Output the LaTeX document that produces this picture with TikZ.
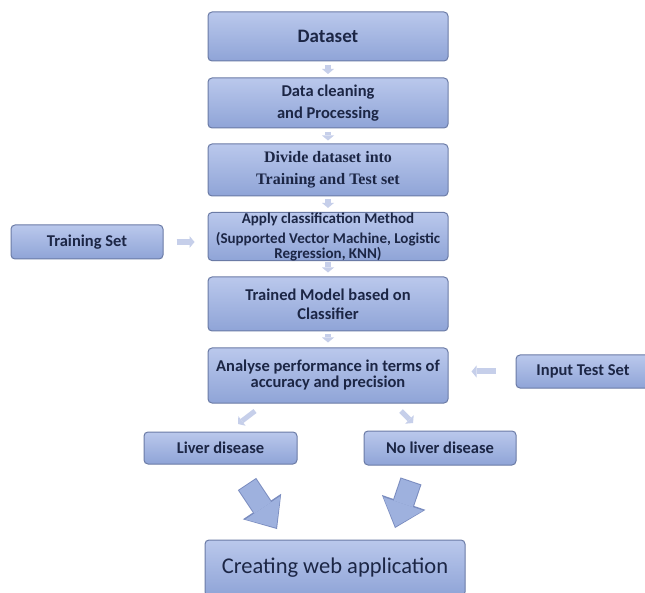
\documentclass[tikz,border=0pt]{standalone}
\usepackage{fontspec}
\setmainfont{Carlito}
\newfontfamily\divfont{Liberation Serif}
\usepackage{tikz}
\usetikzlibrary{arrows.meta}
\definecolor{boxtop}{HTML}{BAC8EC}
\definecolor{boxbot}{HTML}{8FA4D7}
\definecolor{boxline}{HTML}{6B7BA6}
\definecolor{txt}{HTML}{1C2645}
\definecolor{smallarrow}{HTML}{C6CFEA}
\definecolor{bigfill}{HTML}{9EB1DE}
\definecolor{bigline}{HTML}{7A8CBF}
\tikzset{
  stage/.style={draw=boxline, line width=1pt, rounded corners=4pt,
    top color=boxtop, bottom color=boxbot, text=txt, align=center,
    inner sep=0pt, font=\bfseries\fontsize{16.5}{18}\selectfont},
  link/.style={draw=smallarrow, line width=6pt,
    -{Triangle[length=5pt,width=12pt,line width=0pt]}},
  bigout/.style={draw=bigline, line width=22pt,
    -{Triangle[length=27pt,width=46pt,line width=0pt]}},
  bigin/.style={draw=bigfill, line width=20pt,
    -{Triangle[length=24pt,width=42pt,line width=0pt]},
    shorten >=1.5pt, shorten <=1pt}
}
\begin{document}
\begin{tikzpicture}[x=1pt,y=-1pt]
    \clip (0,0) rectangle (645,593);
    \fill[white] (0,0) rectangle (645,593);

    % main column
    \node[stage, minimum width=240pt, minimum height=49pt,
      font=\bfseries\fontsize{19}{20}\selectfont] (dataset) at (328,36.5) {Dataset};
    \node[stage, minimum width=240pt, minimum height=50pt] (clean) at (328,103)
      {Data cleaning\\[4pt] and Processing};
    \node[stage, minimum width=240pt, minimum height=52pt,
      font=\divfont\bfseries\fontsize{16}{22}\selectfont] (divide) at (328,170)
      {Divide dataset into\\ Training and Test set};
    \node[stage, minimum width=240pt, minimum height=47pt,
      font=\bfseries\fontsize{15}{15}\selectfont] (apply) at (328,236.5)
      {Apply classification Method\\[5pt] (Supported Vector Machine, Logistic\\ Regression, KNN)};
    \node[stage, minimum width=240pt, minimum height=54pt] (trained) at (328,304)
      {Trained Model based on\\[1pt] Classifier};
    \node[stage, minimum width=240pt, minimum height=55pt] (analyse) at (328,375.5)
      {Analyse performance in terms of\\[-2pt] accuracy and precision};

    % side inputs
    \node[stage, minimum width=152pt, minimum height=34pt] (trainset) at (87,242)
      {Training Set};
    \node[stage, minimum width=134pt, minimum height=33pt] (testset) at (583,371.5)
      {Input Test Set};

    % outcomes
    \node[stage, minimum width=153pt, minimum height=32pt] (liver) at (220.5,448)
      {Liver disease};
    \node[stage, minimum width=152pt, minimum height=34pt] (noliver) at (440,448)
      {No liver disease};
    \node[stage, minimum width=260pt, minimum height=56pt,
      font=\fontsize{22.5}{26}\selectfont] (web) at (335,568)
      {Creating web application};

    % small arrows
    \draw[link, shorten <=3.5pt, shorten >=3.5pt] (dataset) -- (clean);
    \draw[link, shorten <=3.5pt, shorten >=3pt] (clean) -- (divide);
    \draw[link, shorten <=3pt, shorten >=4pt] (divide) -- (apply);
    \draw[link, shorten <=1pt, shorten >=4pt] (apply) -- (trained);
    \draw[link, shorten <=3pt, shorten >=5pt] (trained) -- (analyse);
    \draw[link, shorten <=13pt, shorten >=13pt] (trainset) -- (apply.west |- trainset);
    \draw[link, shorten <=20pt, shorten >=23pt] (testset) -- (analyse.east |- testset);

    \coordinate (ltail) at (255,411);
    \coordinate (lhead) at (238,424);
    \coordinate (rtail) at (401,411);
    \coordinate (rhead) at (413,423);
    \draw[link, line width=5pt] (ltail) -- (lhead);
    \draw[link, line width=5pt] (rtail) -- (rhead);

    % big arrows to the web box
    \coordinate (bl1) at (247,484);
    \coordinate (bl2) at (277,529);
    \coordinate (br1) at (411,481);
    \coordinate (br2) at (395,528);
    \draw[bigout] (bl1) -- (bl2);
    \draw[bigin] (bl1) -- (bl2);
    \draw[bigout] (br1) -- (br2);
    \draw[bigin] (br1) -- (br2);

  \end{tikzpicture}
\end{document}
